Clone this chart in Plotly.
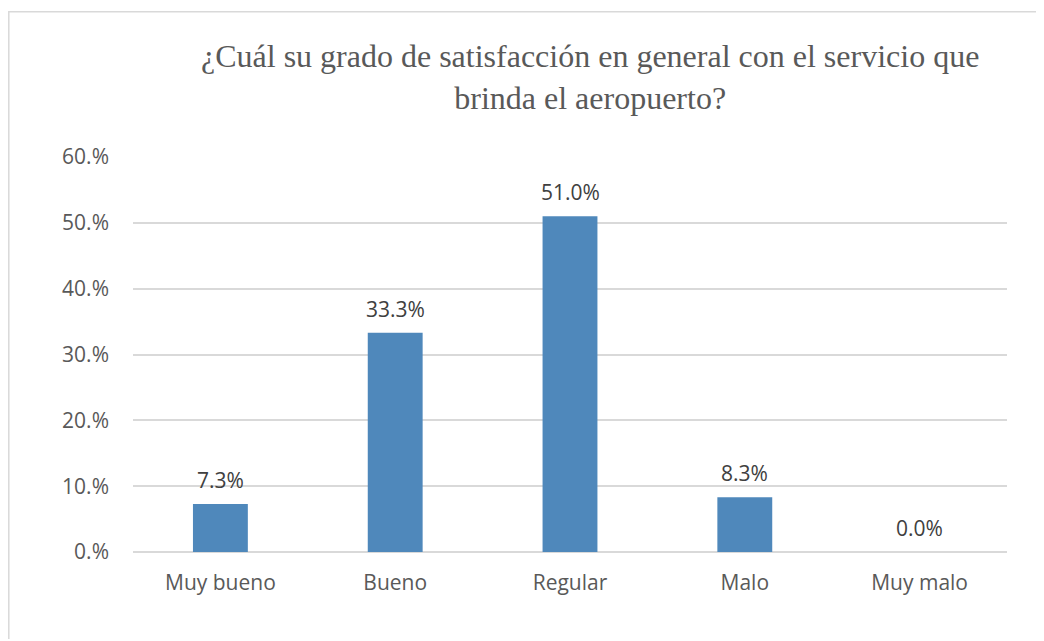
import plotly.graph_objects as go

categories = ["Muy bueno", "Bueno", "Regular", "Malo", "Muy malo"]
values = [7.3, 33.3, 51.0, 8.3, 0.0]
labels = ["7.3%", "33.3%", "51.0%", "8.3%", "0.0%"]
y_ticks = [0, 10, 20, 30, 40, 50, 60]
y_tick_text = ["0.%", "10.%", "20.%", "30.%", "40.%", "50.%", "60.%"]
title_text = "¿Cuál su grado de satisfacción en general con el servicio que<br>brinda el aeropuerto?"

TXT = "#595959"
SANS = "Open Sans, Liberation Sans, sans-serif"

fig = go.Figure()
fig.add_trace(go.Bar(
    x=categories, y=values,
    marker=dict(color="#4F88BB", line=dict(width=0)),
    hoverinfo="skip",
))

for c, v, t in zip(categories, values, labels):
    fig.add_annotation(x=c, y=v, text=t, showarrow=False, yanchor="middle",
                       yshift=24, font=dict(family=SANS, size=21, color="#404040"))

fig.add_annotation(xref="paper", yref="paper", x=0.523, y=1.203, text=title_text,
                   showarrow=False, xanchor="center", yanchor="middle",
                   font=dict(family="Liberation Serif, Times New Roman, serif", size=32, color=TXT))

# chart outer border
fig.add_shape(type="rect", xref="paper", yref="paper", x0=-0.1421, y0=-0.4, x1=1.2, y1=1.368,
              line=dict(color="#D9D9D9", width=1.5), fillcolor="rgba(0,0,0,0)", layer="below")

fig.update_layout(
    width=1036, height=631,
    margin=dict(l=125, r=37, t=148.5, b=86.5),
    paper_bgcolor="white", plot_bgcolor="white",
    bargap=0.686,
    showlegend=False,
    xaxis=dict(showgrid=False, showline=False, zeroline=False, ticks="",
               tickfont=dict(family=SANS, size=21, color=TXT), ticklabelstandoff=16),
    yaxis=dict(range=[0, 60], tickvals=y_ticks, ticktext=y_tick_text,
               showgrid=True, gridcolor="#D9D9D9", gridwidth=1.5,
               zeroline=True, zerolinecolor="#D9D9D9", zerolinewidth=1.5,
               showline=False, ticks="",
               tickfont=dict(family=SANS, size=21, color=TXT), ticklabelstandoff=23),
)

fig.write_html("out.html")
